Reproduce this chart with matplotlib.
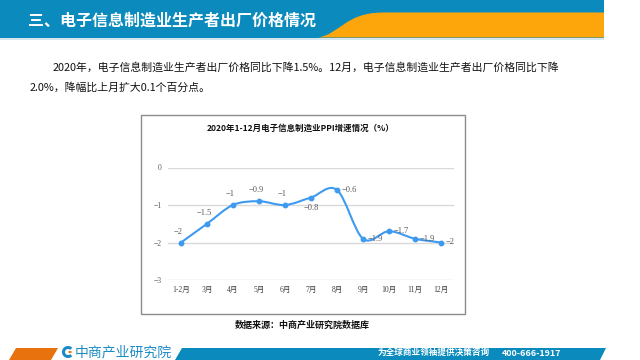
import matplotlib
matplotlib.use("Agg")
import matplotlib.pyplot as plt
from matplotlib.path import Path
from matplotlib.patches import PathPatch, Rectangle, Polygon, Arc, Circle
import numpy as np

# ---------------- data ----------------
categories = ["1-2月", "3月", "4月", "5月", "6月", "7月", "8月", "9月", "10月", "11月", "12月"]
ppi_growth = [-2, -1.5, -1, -0.9, -1, -0.8, -0.6, -1.9, -1.7, -1.9, -2]
label_pos = ["above", "above", "above", "above", "above", "below", "right", "right", "right", "right", "right"]
yticks = [0, -1, -2, -3]

header_title = "三、电子信息制造业生产者出厂价格情况"
body_line1 = "2020年，电子信息制造业生产者出厂价格同比下降1.5%。12月，电子信息制造业生产者出厂价格同比下降"
body_line2 = "2.0%，降幅比上月扩大0.1个百分点。"
chart_title = "2020年1-12月电子信息制造业PPI增速情况（%）"
source_text = "数据来源：中商产业研究院数据库"
logo_text = "中商产业研究院"
slogan_text = "为全球商业领袖提供决策咨询"
phone_text = "400-666-1917"

CJK = ["Noto Sans CJK SC", "DejaVu Sans"]
SERIF = ["Liberation Serif", "Noto Sans CJK SC"]

W, H = 640, 360
fig = plt.figure(figsize=(6.4, 3.6), dpi=100)
fig.patch.set_facecolor("white")


def fx(x):
    return x / W


def fy(y):
    return 1 - y / H


# ---------------- header ----------------
blue = "#0A8ABD"
orange = "#FCA60C"
fig.patches.append(Rectangle((0, fy(37.5)), fx(604), 37.5 / H, transform=fig.transFigure,
                             facecolor=blue, edgecolor="none", zorder=0))
fig.patches.append(Rectangle((0, fy(39.5)), fx(604), 2 / H, transform=fig.transFigure,
                             facecolor="#D6E6EE", edgecolor="none", zorder=0))
verts = [(318, 37.5), (340, 34), (345, 13), (382, 12.5), (604, 12.5), (604, 37.5), (318, 37.5)]
codes = [Path.MOVETO, Path.CURVE4, Path.CURVE4, Path.CURVE4, Path.LINETO, Path.LINETO, Path.CLOSEPOLY]
hp = Path([(fx(x), fy(y)) for x, y in verts], codes)
fig.patches.append(PathPatch(hp, transform=fig.transFigure, facecolor=orange, edgecolor="none", zorder=1))
fig.text(fx(28), fy(21), header_title, family=CJK, fontsize=11.5, fontweight="bold",
         color="white", va="center", ha="left", zorder=3)

# ---------------- body text ----------------
fig.text(fx(53), fy(67), body_line1, family=CJK, fontsize=7.8, fontweight="medium", color="#111111",
         va="center", ha="left")
fig.text(fx(30), fy(87), body_line2, family=CJK, fontsize=7.8, fontweight="medium", color="#111111",
         va="center", ha="left")

# ---------------- chart box ----------------
fig.patches.append(Rectangle((fx(141), fy(314)), fx(465 - 141), (314 - 115) / H, transform=fig.transFigure,
                             facecolor="white", edgecolor="#8C8C8C", linewidth=1.0, zorder=1))
fig.text(fx(301), fy(128), chart_title, family=CJK, fontsize=6.1, fontweight="bold",
         color="#111111", ha="center", va="center", zorder=3)

ax = fig.add_axes([fx(168), fy(280), fx(454 - 168), (280 - 167.5) / H])
ax.set_facecolor("none")
ax.set_zorder(2)
x = np.arange(len(categories))
y = np.array(ppi_growth, dtype=float)
ax.set_xlim(-0.5, len(categories) - 0.5)
ax.set_ylim(-3, 0)
for s in ax.spines.values():
    s.set_visible(False)
ax.set_yticks(yticks)
ax.set_yticklabels([f"{v:g}".replace("-", "\u2212") for v in yticks], family=SERIF, fontsize=5.5, color="#595959")
ax.set_xticks(x)
ax.set_xticklabels(categories, family=SERIF, fontsize=5.5, color="#404040")
ax.tick_params(axis="both", length=0)
ax.tick_params(axis="y", pad=4.5)
ax.tick_params(axis="x", pad=4)
ax.grid(axis="y", color="#D9D9D9", linewidth=1.0)
ax.set_axisbelow(True)

# smoothed line (Excel-style cubic Bezier through the data points)
line_color = "#3E9AF0"
pts = np.column_stack([x, y])
n = len(pts)
pverts = [tuple(pts[0])]
pcodes = [Path.MOVETO]
for i in range(n - 1):
    p0 = pts[i - 1] if i > 0 else pts[i]
    p1 = pts[i]
    p2 = pts[i + 1]
    p3 = pts[i + 2] if i + 2 < n else pts[i + 1]
    c1 = p1 + (p2 - p0) / 6.0
    c2 = p2 - (p3 - p1) / 6.0
    pverts += [tuple(c1), tuple(c2), tuple(p2)]
    pcodes += [Path.CURVE4] * 3
ax.add_patch(PathPatch(Path(pverts, pcodes), facecolor="none", edgecolor=line_color,
                       linewidth=1.5, transform=ax.transData, clip_on=False, zorder=3))
ax.plot(x, y, linestyle="none", marker="o", markersize=3.2, color=line_color, zorder=4, clip_on=False)

for xi, yi, pos in zip(x, y, label_pos):
    txt = f"{yi:g}".replace("-", "\u2212")
    if pos == "above":
        ax.annotate(txt, (xi, yi), xytext=(-2, 5), textcoords="offset points", ha="center", va="bottom",
                    family=SERIF, fontsize=6, color="#595959", zorder=5)
    elif pos == "below":
        ax.annotate(txt, (xi, yi), xytext=(0, -5), textcoords="offset points", ha="center", va="top",
                    family=SERIF, fontsize=6, color="#595959", zorder=5)
    else:
        ax.annotate(txt, (xi, yi), xytext=(3.5, 0), textcoords="offset points", ha="left", va="center",
                    family=SERIF, fontsize=6, color="#595959", zorder=5)

# ---------------- source ----------------
fig.text(fx(302), fy(325), source_text, family=CJK, fontsize=6.5, fontweight="bold",
         color="#111111", ha="center", va="center")

# ---------------- footer ----------------
fig.patches.append(Polygon([(fx(9), fy(360)), (fx(16), fy(348)), (fx(58), fy(348)), (fx(51), fy(360))],
                           closed=True, transform=fig.transFigure, facecolor="#E8720E", edgecolor="none"))
fig.patches.append(Polygon([(fx(175), fy(360)), (fx(182), fy(348)), (fx(606), fy(348)), (fx(600), fy(360))],
                           closed=True, transform=fig.transFigure, facecolor="#0A8ABD", edgecolor="none"))
# logo icon
fig.patches.append(Arc((fx(68), fy(352)), 9 / W, 9 / H, theta1=60, theta2=300, transform=fig.transFigure,
                       color="#1B8BC6", linewidth=2.2))
fig.patches.append(Circle((fx(70), fy(352)), 1.8 / W, transform=fig.transFigure, facecolor="#E8720E",
                          edgecolor="none"))
fig.text(fx(75), fy(352.5), logo_text, family=CJK, fontsize=10, color="#1B8BC6", ha="left", va="center")
fig.text(fx(378), fy(353), slogan_text, family=CJK, fontsize=6.2, fontweight="bold", color="white",
         ha="left", va="center")
fig.text(fx(502), fy(353), phone_text, family=CJK, fontsize=6.4, fontweight="bold", color="white",
         ha="left", va="center")

fig.savefig("out.png", dpi=100)
